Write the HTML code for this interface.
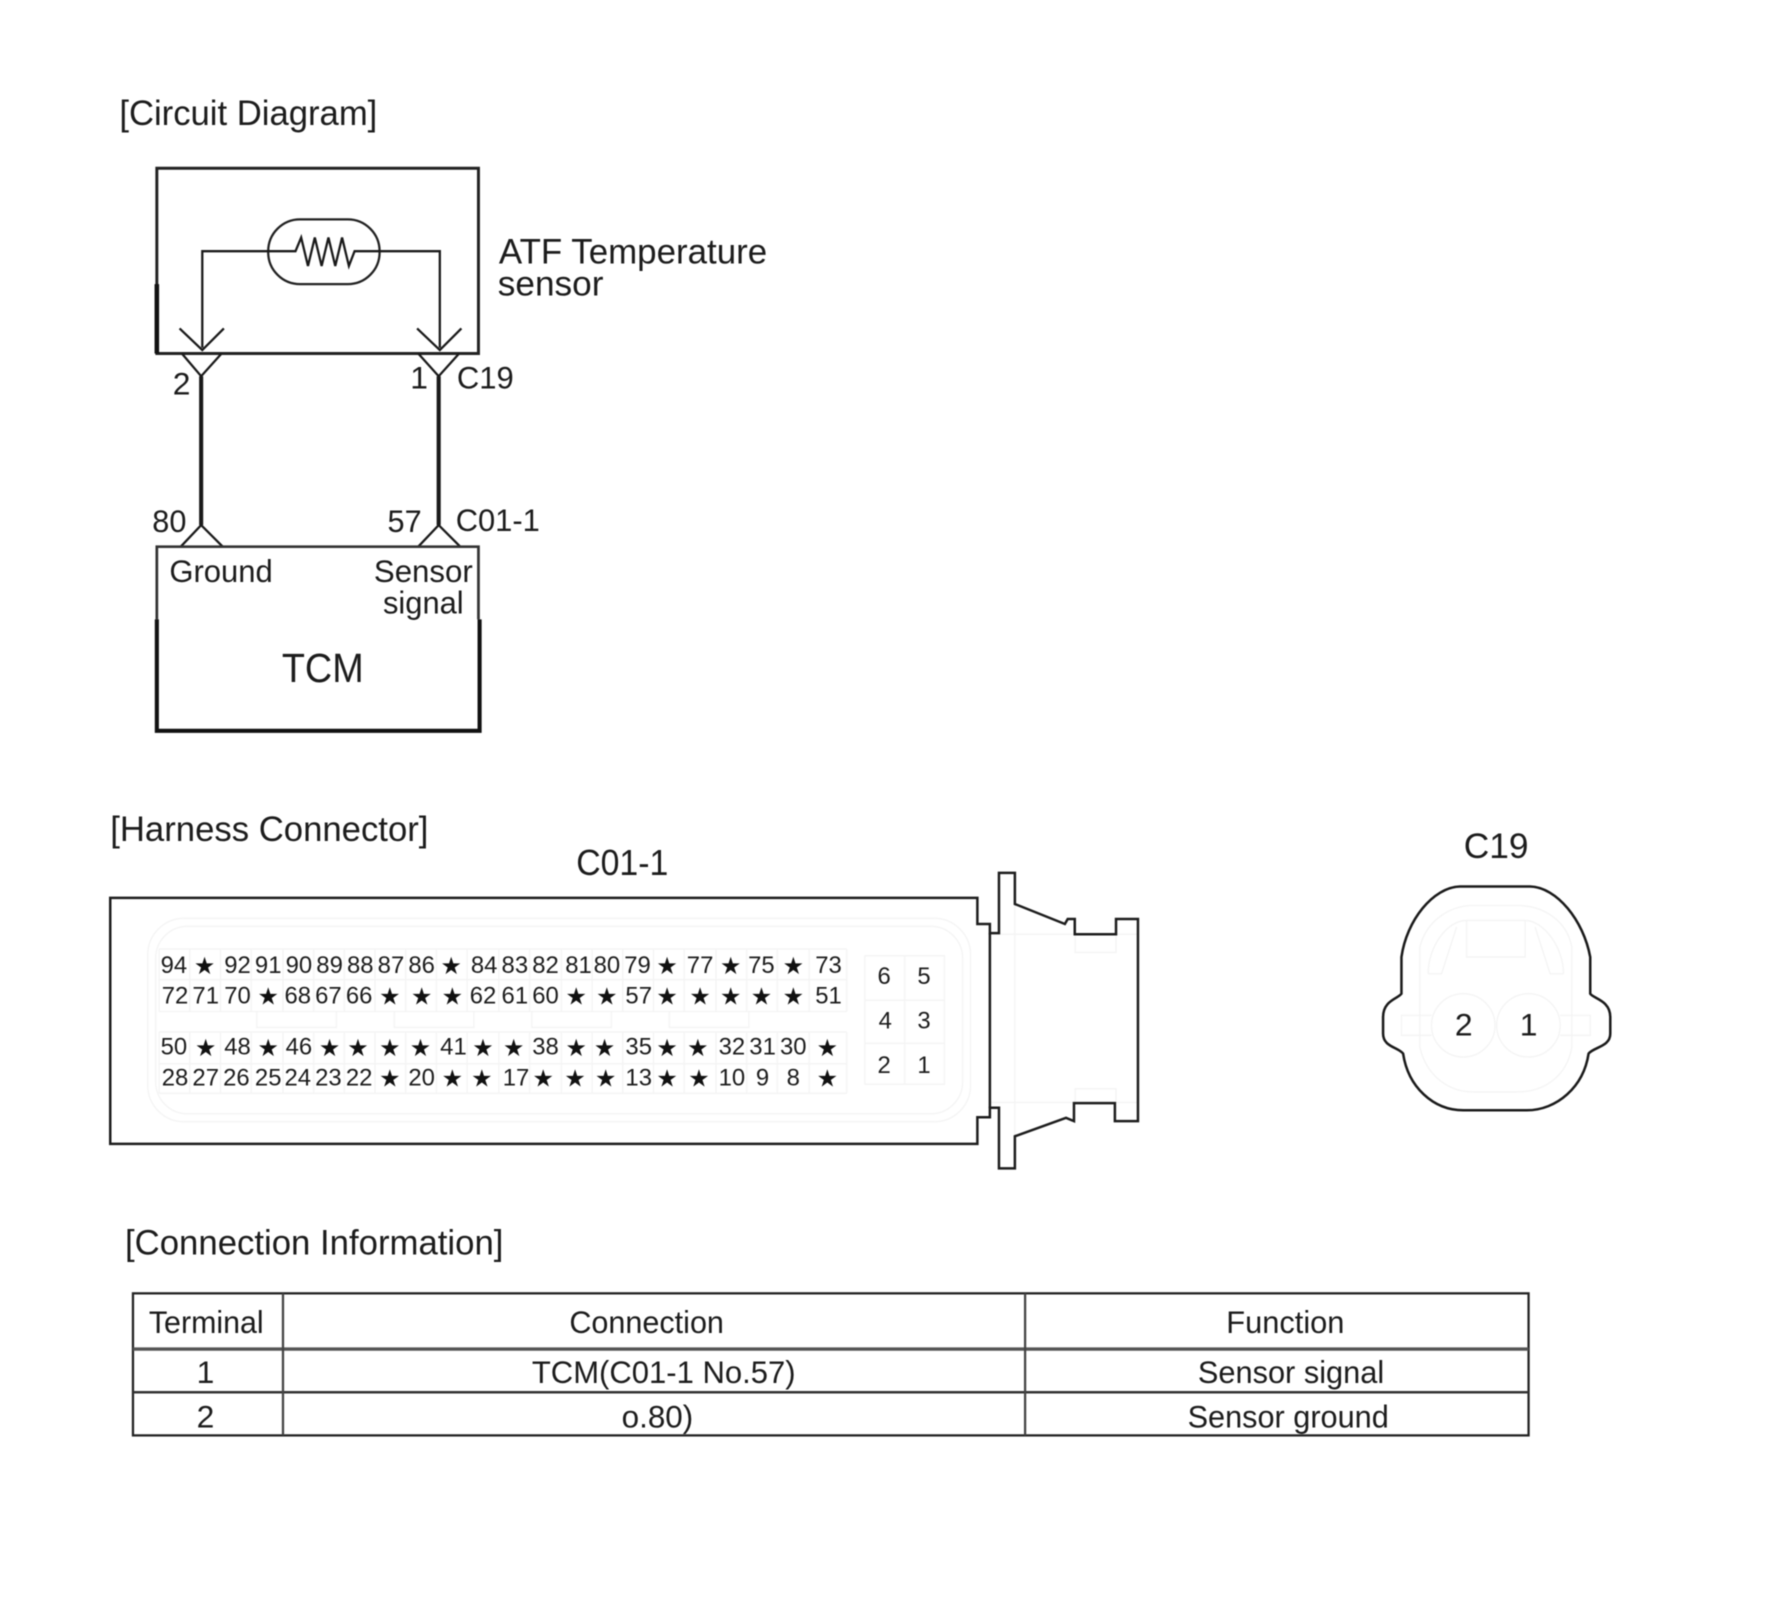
<!DOCTYPE html>
<html><head><meta charset="utf-8"><style>
html,body{margin:0;padding:0;background:#fff}
svg{display:block;filter:blur(.45px)}
text{font-family:"Liberation Sans",sans-serif;fill:#1c1c1c}
.p{font-size:21px;text-anchor:middle}
.s{font-size:21px;text-anchor:middle;font-family:"DejaVu Sans",sans-serif;fill:#111}
.f{fill:none;stroke:#f4f4f4;stroke-width:1.2}
.k{fill:none;stroke:#1a1a1a;stroke-width:2}
</style></head><body>
<svg width="1782" height="1615" viewBox="0 0 1568 1421" xmlns="http://www.w3.org/2000/svg">
<rect width="1568" height="1421" fill="#fff"/>

<text x="105" y="110" textLength="227" lengthAdjust="spacingAndGlyphs" style="font-size:31px">[Circuit Diagram]</text>

<path d="M138 311V148H421V311Z" fill="none" stroke="#222" stroke-width="2.6"/>
<path d="M138 250V311" stroke="#111" stroke-width="4" fill="none"/>
<rect x="236" y="193" width="98" height="57" rx="28" fill="none" stroke="#222" stroke-width="2"/>
<path d="M178 306V221H260L265 209L271 234L277 209L283 234L289 209L295 234L301 209L307 234L312 221H387V306" class="k"/>
<path d="M158 289L178 308L197 289M367 289L387 308L406 289" class="k"/>
<path d="M160 311L177 331L195 311M368 311L386 331L404 311" class="k"/>
<path d="M177 331V462M386 331V462" fill="none" stroke="#1a1a1a" stroke-width="3.6"/>
<path d="M159 481L177 462L196 481M368 481L386 462L405 481" class="k"/>
<path d="M138 545V481H421V545" fill="none" stroke="#333" stroke-width="2.4"/>
<path d="M138 545V643H422V545" fill="none" stroke="#111" stroke-width="3.6"/>

<text x="439" y="232" textLength="236" lengthAdjust="spacingAndGlyphs" style="font-size:31px">ATF Temperature</text>
<text x="438" y="260" textLength="93" lengthAdjust="spacingAndGlyphs" style="font-size:31px">sensor</text>
<text x="152" y="347" style="font-size:28px">2</text>
<text x="361" y="342" style="font-size:28px">1</text>
<text x="402" y="342" textLength="50" lengthAdjust="spacingAndGlyphs" style="font-size:28px">C19</text>
<text x="134" y="468" textLength="30" lengthAdjust="spacingAndGlyphs" style="font-size:28px">80</text>
<text x="341" y="468" textLength="30" lengthAdjust="spacingAndGlyphs" style="font-size:28px">57</text>
<text x="401" y="467" textLength="74" lengthAdjust="spacingAndGlyphs" style="font-size:28px">C01-1</text>
<text x="149" y="512" textLength="91" lengthAdjust="spacingAndGlyphs" style="font-size:28px">Ground</text>
<text x="329" y="512" textLength="87" lengthAdjust="spacingAndGlyphs" style="font-size:28px">Sensor</text>
<text x="337" y="540" textLength="71" lengthAdjust="spacingAndGlyphs" style="font-size:28px">signal</text>
<text x="248" y="600" textLength="72" lengthAdjust="spacingAndGlyphs" style="font-size:36px">TCM</text>

<text x="97" y="740" textLength="280" lengthAdjust="spacingAndGlyphs" style="font-size:31px">[Harness Connector]</text>
<text x="507" y="770" textLength="81" lengthAdjust="spacingAndGlyphs" style="font-size:32px">C01-1</text>

<!-- faint connector detail -->
<rect x="130" y="808" width="724" height="179" rx="32" class="f"/>
<rect x="137" y="815" width="710" height="165" rx="28" class="f"/>
<path class="f" d="M140 835H745M140 862H745M140 890H745M140 908H745M140 936H745M140 962H745"/>
<path class="f" d="M140 835V890M167 835V890M194 835V890M221 835V890M249 835V890M276 835V890M303 835V890M330 835V890M357 835V890M384 835V890M411 835V890M439 835V890M466 835V890M494 835V890M521 835V890M548 835V890M575 835V890M602 835V890M630 835V890M657 835V890M684 835V890M712 835V890M745 835V890"/>
<path class="f" d="M140 908V962M167 908V962M194 908V962M221 908V962M249 908V962M276 908V962M303 908V962M330 908V962M357 908V962M384 908V962M411 908V962M439 908V962M466 908V962M494 908V962M521 908V962M548 908V962M575 908V962M602 908V962M630 908V962M657 908V962M684 908V962M712 908V962M745 908V962"/>
<path class="f" d="M761 841H831V954H761ZM796 841V954M761 880H831M761 918H831"/>
<path class="f" d="M226 890V904H296V890M347 890V904H417V890M468 890V904H538V890M589 890V904H659V890"/>
<path class="f" d="M871 822H1001M871 970H1001M893 795V1000M946 822V838H982V822M946 970V958H982V970"/>

<path d="M97 790H860V813H871V821H879V768H893V795.4L937 813L939.5 808.6H945.7V822H982V808.6H1001.3V986.5H981V970.6H945V986.5L938 983.6L893 999.8V1028H879V974.7H871V983H860V1006.5H97Z" fill="none" stroke="#1d1d1d" stroke-width="2.2"/>
<path d="M871 821V975" stroke="#1d1d1d" stroke-width="2.2" fill="none"/>

<!-- pins row 1 -->
<text class="p" x="153" y="856">94</text><text class="s" x="180" y="857">★</text><text class="p" x="209" y="856">92</text><text class="p" x="236" y="856">91</text><text class="p" x="263" y="856">90</text><text class="p" x="290" y="856">89</text><text class="p" x="317" y="856">88</text><text class="p" x="344" y="856">87</text><text class="p" x="371" y="856">86</text><text class="s" x="397" y="857">★</text><text class="p" x="426" y="856">84</text><text class="p" x="453" y="856">83</text><text class="p" x="480" y="856">82</text><text class="p" x="509" y="856">81</text><text class="p" x="534" y="856">80</text><text class="p" x="561" y="856">79</text><text class="s" x="587" y="857">★</text><text class="p" x="616" y="856">77</text><text class="s" x="643" y="857">★</text><text class="p" x="670" y="856">75</text><text class="s" x="698" y="857">★</text><text class="p" x="729" y="856">73</text>
<!-- row 2 -->
<text class="p" x="154" y="883">72</text><text class="p" x="181" y="883">71</text><text class="p" x="209" y="883">70</text><text class="s" x="236" y="884">★</text><text class="p" x="262" y="883">68</text><text class="p" x="289" y="883">67</text><text class="p" x="316" y="883">66</text><text class="s" x="343" y="884">★</text><text class="s" x="371" y="884">★</text><text class="s" x="398" y="884">★</text><text class="p" x="425" y="883">62</text><text class="p" x="453" y="883">61</text><text class="p" x="480" y="883">60</text><text class="s" x="507" y="884">★</text><text class="s" x="534" y="884">★</text><text class="p" x="562" y="883">57</text><text class="s" x="587" y="884">★</text><text class="s" x="616" y="884">★</text><text class="s" x="643" y="884">★</text><text class="s" x="670" y="884">★</text><text class="s" x="698" y="884">★</text><text class="p" x="729" y="883">51</text>
<!-- row 3 -->
<text class="p" x="153" y="928">50</text><text class="s" x="181" y="929">★</text><text class="p" x="209" y="928">48</text><text class="s" x="236" y="929">★</text><text class="p" x="263" y="928">46</text><text class="s" x="290" y="929">★</text><text class="s" x="315" y="929">★</text><text class="s" x="343" y="929">★</text><text class="s" x="370" y="929">★</text><text class="p" x="399" y="928">41</text><text class="s" x="425" y="929">★</text><text class="s" x="452" y="929">★</text><text class="p" x="480" y="928">38</text><text class="s" x="507" y="929">★</text><text class="s" x="532" y="929">★</text><text class="p" x="562" y="928">35</text><text class="s" x="587" y="929">★</text><text class="s" x="614" y="929">★</text><text class="p" x="644" y="928">32</text><text class="p" x="671" y="928">31</text><text class="p" x="698" y="928">30</text><text class="s" x="728" y="929">★</text>
<!-- row 4 -->
<text class="p" x="154" y="955">28</text><text class="p" x="181" y="955">27</text><text class="p" x="208" y="955">26</text><text class="p" x="236" y="955">25</text><text class="p" x="262" y="955">24</text><text class="p" x="289" y="955">23</text><text class="p" x="316" y="955">22</text><text class="s" x="343" y="956">★</text><text class="p" x="371" y="955">20</text><text class="s" x="398" y="956">★</text><text class="s" x="424" y="956">★</text><text class="p" x="454" y="955">17</text><text class="s" x="478" y="956">★</text><text class="s" x="506" y="956">★</text><text class="s" x="533" y="956">★</text><text class="p" x="562" y="955">13</text><text class="s" x="587" y="956">★</text><text class="s" x="615" y="956">★</text><text class="p" x="644" y="955">10</text><text class="p" x="671" y="955">9</text><text class="p" x="698" y="955">8</text><text class="s" x="728" y="956">★</text>
<!-- small block -->
<text class="p" x="778" y="866">6</text><text class="p" x="813" y="866">5</text><text class="p" x="779" y="905">4</text><text class="p" x="813" y="905">3</text><text class="p" x="778" y="944">2</text><text class="p" x="813" y="944">1</text>

<!-- C19 -->
<text x="1288" y="755" textLength="57" lengthAdjust="spacingAndGlyphs" style="font-size:31px">C19</text>
<g transform="translate(1196.4 722) scale(.294 .293)">
<path class="f" style="stroke-width:4" d="M320 300H495V410H320ZM205 460C205 380 260 300 320 300M610 460C610 380 550 300 495 300M205 460H245L290 320M610 460H570L525 320"/>
<circle class="f" style="stroke-width:4" cx="310" cy="615" r="95"/>
<circle class="f" style="stroke-width:4" cx="505" cy="615" r="95"/>
<path class="f" style="stroke-width:4" d="M215 585H125V645H215M600 585H690V645H600M180 380V680C200 770 270 815 340 815H470C550 815 620 770 635 680V380C620 300 550 255 470 255H340C270 255 200 300 180 380Z"/>
<path d="M300 198L510 198C590 200 670 300 690 410L690 520C700 535 750 540 750 590L750 640C750 680 700 680 685 700C670 800 590 870 500 870L310 870C220 870 145 800 130 700C115 680 70 680 70 640L70 590C70 540 115 535 125 520L125 410C140 300 220 200 300 198Z" fill="none" stroke="#1a1a1a" stroke-width="7.5"/>
</g>
<text class="p" x="1288" y="911" style="font-size:28px">2</text>
<text class="p" x="1345" y="911" style="font-size:28px">1</text>

<!-- Table -->
<text x="110" y="1104" textLength="333" lengthAdjust="spacingAndGlyphs" style="font-size:31px">[Connection Information]</text>
<rect x="117" y="1138" width="1228" height="125" fill="none" stroke="#222" stroke-width="2"/>
<path d="M117 1187H1345" stroke="#555" stroke-width="3" fill="none"/>
<path d="M117 1225H1345" stroke="#333" stroke-width="2.2" fill="none"/>
<path d="M249 1138V1263M902 1138V1263" stroke="#444" stroke-width="2" fill="none"/>
<text x="131" y="1173" textLength="101" lengthAdjust="spacingAndGlyphs" style="font-size:28px">Terminal</text>
<text x="501" y="1173" textLength="136" lengthAdjust="spacingAndGlyphs" style="font-size:28px">Connection</text>
<text x="1079" y="1173" textLength="104" lengthAdjust="spacingAndGlyphs" style="font-size:28px">Function</text>
<text x="173" y="1217" style="font-size:28px">1</text>
<text x="468" y="1217" textLength="232" lengthAdjust="spacingAndGlyphs" style="font-size:28px">TCM(C01-1 No.57)</text>
<text x="1054" y="1217" textLength="164" lengthAdjust="spacingAndGlyphs" style="font-size:28px">Sensor signal</text>
<text x="173" y="1256" style="font-size:28px">2</text>
<text x="547" y="1256" textLength="63" lengthAdjust="spacingAndGlyphs" style="font-size:28px">o.80)</text>
<text x="1045" y="1256" textLength="177" lengthAdjust="spacingAndGlyphs" style="font-size:28px">Sensor ground</text>
</svg>
</body></html>
